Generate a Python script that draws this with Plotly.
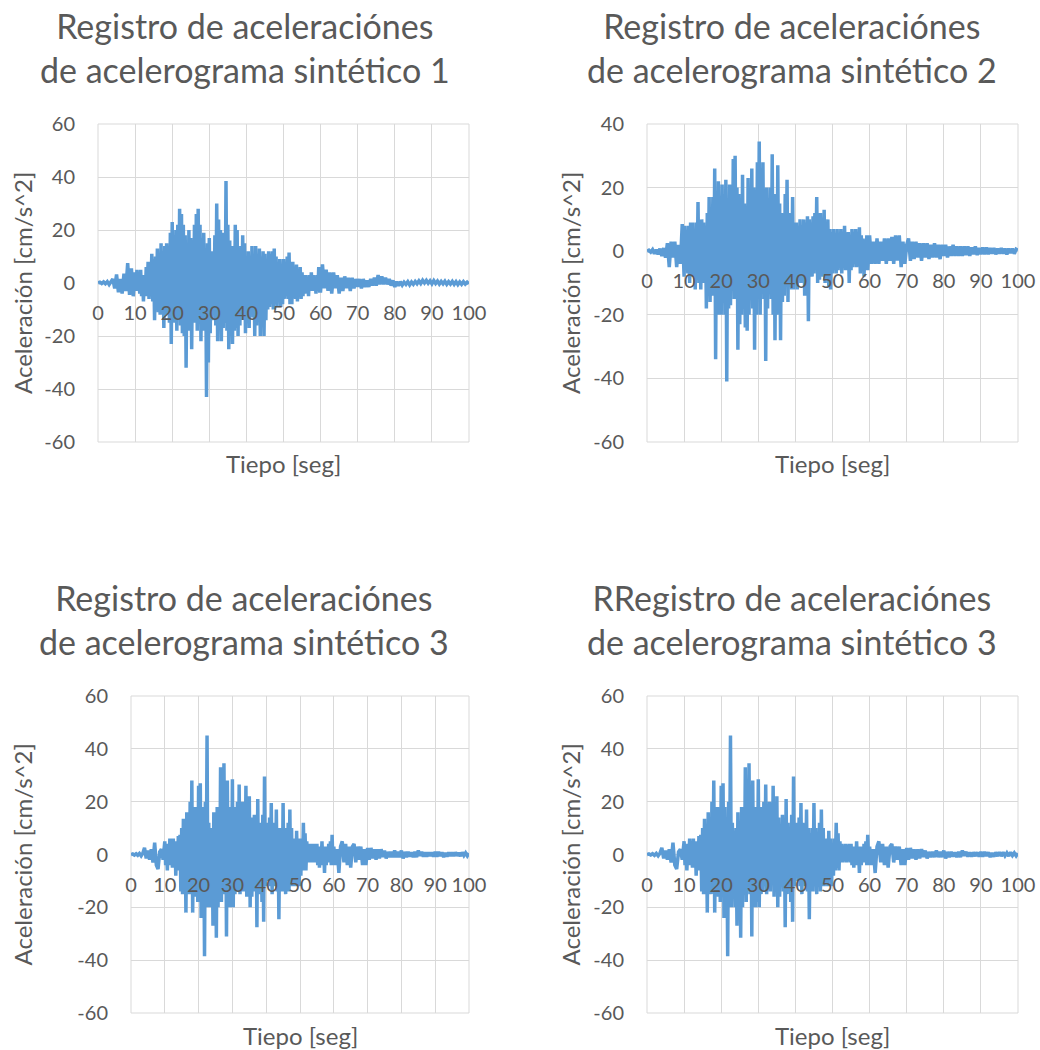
import plotly.graph_objects as go

W, H = 1040, 1050

# time axis [s]: 0.5 s steps in the quiet parts, 0.25 s steps in the strong phase
tiempo = ([i * 0.5 for i in range(20)]
          + [10 + i * 0.25 for i in range(200)]
          + [60 + i * 0.5 for i in range(81)])

# acceleration records [cm/s^2]
acel_1 = [
    # 0 - 9.5 s (0.5 s)
    0, 0.3, -0.2, 0.4, -0.3, 0.5, -0.6, 0.8, 1.5, -2,
    3.2, -3.5, 1.5, -4, 3.5, -3, 7.5, -4.5, 5.5, -5,
    # 10 - 59.75 s (0.25 s)
    4, -3, 5, -2, 3, -4, 5, -5, 2, -7,
    3, -4, 6, -5, 8, -6, 5, -4, 11, -7,
    9, -14, 10, -8, 13, -11, 7, -12, 15, -9,
    12, -17, 14, -12, 15, -10, 11, -15, 19, -23,
    23, -14, 18, -15, 20, -18, 22, -12, 28, -16,
    26, -19, 22, -20, 18, -32, 14, -15, 20, -18,
    17, -25, 14, -12, 22, -15, 26, -18, 28, -14,
    22, -22, 17, -18, 19, -15, 12, -43, 15, -30,
    17, -19, 12, -14, 10, -12, 18, -16, 30, -22,
    24, -17, 20, -22, 19, -17, 12, -15, 38.5, -18,
    22, -25, 16, -20, 14, -23, 12, -18, 22, -17,
    20, -20, 12, -16, 14, -14, 18, -12, 15, -19,
    9, -15, 12, -17, 10, -12, 14, -13, 11, -20,
    14, -16, 11, -12, 13, -20, 10, -15, 12, -20,
    11, -14, 9, -10, 12, -9, 11, -8, 12, -10,
    13, -8, 10, -9, 8, -7, 9, -9, 7, -8,
    9, -6, 7, -5, 10, -6, 11.5, -8, 6, -8,
    8, -5, 6, -6, 7, -7, 5, -5, 6, -6,
    4, -5, 3, -4, 3, -3, 2, -5, 3, -3,
    4, -3, 3, -2, 2, -4, 3, -3, 6, -3,
    # 60 - 100 s (0.5 s)
    -3, 7, -2, 5, -3, 4, -4, 4, -2, 3,
    -4, 2, -3, 2.5, -2, 2, -3, 2, -2, 1.5,
    -1.5, 1.5, -2, 1.5, -1.5, 1, -1.5, 1.5, -1, 2,
    -1, 3, -0.5, 2.5, -0.5, 2, -0.5, 1.5, -1, 1,
    -1.5, 0.5, -1, 0.5, -0.8, 0.3, -0.5, 0.5, -0.7, 0.4,
    -0.5, 0.6, -0.3, 0.8, -0.2, 1, 0, 1, -0.1, 0.8,
    -0.3, 0.9, -0.2, 0.7, -0.4, 0.6, -0.3, 0.7, -0.5, 0.5,
    -0.4, 0.6, -0.5, 0.5, -0.6, 0.4, -0.5, 0.5, -0.4, 0.3,
    -0.3,
]

acel_2 = [
    # 0 - 9.5 s
    0, 0.3, -0.3, 0.5, -0.8, 0.5, -1, 0.8, -1.5, 1,
    -2, 2.5, -5, 3, -2, 3, -5, 2, -4, 8.5,
    # 10 - 59.75 s
    -8, 8, -5, 6, -7, 8, -10, 9, -6, 9,
    -8, 7, -12, 9, -9, 15.5, -10, 8, -12, 10,
    -10, 9, -7, 8, -18, 12, -10, 17, -16, 11,
    -14, 17, -12, 26, -34, 18, -15, 22, -20, 16,
    -20, 21, -14, 18, -20, 22.5, -41, 15, -18, 21,
    -17, 16, -12, 29, -15, 30, -10, 20, -31, 18,
    -23, 16, -20, 24, -18, 15, -24, 12, -25, 23,
    -20, 18, -15, 26, -18, 20, -31, 15, -20, 28,
    -15, 34.5, -20, 22, -12, 28, -15, 18, -34.5, 20,
    -18, 13, -10, 20, -15, 30.5, -20, 18, -28, 15,
    -20, 27, -12, 15, -28, 12, -16, 10, -14, 18,
    -10, 22.5, -16, 12, -10, 10, -12, 17, -12, 9,
    -10, 9, -12, 8, -8, 10, -10, 8, -9, 10,
    -14, 9, -8, 11, -22, 10, -6, 9, -8, 11,
    -7, 12, -6, 17, -10, 8, -9, 12, -8, 9,
    -7, 13, -10, 8, -8, 10, -11, 7, -12, 6,
    -7, 7, -6, 5, -7, 7, -6, 5, -5, 7,
    -7, 6, -5, 8, -6, 5, -6, 6, -10, 4,
    -6, 7, -5, 6, -4, 7, -5, 5, -4, 7.5,
    -7, 5, -4, 4, -8, 3, -5, 5, -6, 4,
    # 60 - 100 s
    5, -4, 3, -4, 4, -4, 3, -3, 4, -4,
    4, -3, 4.5, -4, 5, -3, 5, -5, 3, -4,
    2, 4, -3, 3, -2.5, 3, -2, 2.5, -3, 2.5,
    -2, 2.5, -2.5, 2, -2, 2.5, -2, 2, -2.5, 2,
    -1.5, 2, -2, 1.5, -1.5, 2, -1.5, 1.5, -1.5, 1.5,
    -1.5, 1.5, -1.2, 1.5, -1.5, 1.2, -1, 1.5, -1.2, 1,
    -1, 1.2, -1, 1.2, -1, 1, -0.8, 1, -1, 0.8,
    -0.8, 1, -0.8, 0.8, -1, 0.8, -0.6, 0.8, -0.8, 0.6,
    0.3,
]

acel_3 = [
    # 0 - 9.5 s
    0, 0.2, -0.2, 0.3, -0.3, 0.4, -0.5, 0.5, 2.5, -1.5,
    1.5, -2, 2, -3, 4.5, -4, -5.5, 1, 2, -2,
    # 10 - 59.75 s
    5, -4, 3, -6, 4, -3, 6, -4, 3, -5,
    6, -4, 5, -8, 4, -5, 7, -6, 7.5, -14,
    10, -15, 13.5, -12, 9, -22, 16, -14, 14, -15,
    20, -12, 28, -22, 14, -10, 18, -16, 12, -18,
    26, -14, 27, -24, 18, -20, 12, -38.5, 20, -10,
    45, -20, 12, -15, 9, -20, 10, -27, 16, -18,
    12, -31.5, 18, -20, 14, -15, 33, -18, 20, -12,
    34.5, -15, 20, -31, 28, -16, 18, -20, 14, -18,
    28.5, -20, 13, -15, 18, -14, 20, -12, 26.5, -15,
    16, -12, 20, -14, 12, -10, 26, -16, 15, -12,
    22, -20, 14, -16, 10, -12, 15, -14, 12, -27.5,
    21, -15, 12, -10, 8, -18, 15, -25.5, 29.5, -12,
    10, -8, 12, -10, 14, -12, 19.5, -15, 12, -10,
    8, -12, 17, -14, 10, -24.5, 8, -12, 10, -14,
    19.5, -12, 10, -15, 8, -10, 12, -14, 17, -12,
    10, -12, 5, -10, 6, -12, 9, -8, 6, -12,
    4, -8, 6, -6, 12, -5, 8, -6, 5, -3,
    4, -3, 3, -2, 4, -3, 3, -2, 4, -3,
    4, -4, 3, -5, 2, -3, 5, -4, 2, -7,
    3, -4, 2, -3, 4, -3, 5, -4, 7.5, -4,
    # 60 - 100 s
    3, -4, 2, -7, 3, 5, -3, 4, -4, 3,
    -5, 3, 4, -3, 3, -2, 3, -4, 2, -4,
    2.5, -2, 2.5, -1.5, 2, -2, 2, -1.5, 2, -1,
    1.5, -1.5, 1, -1, 1, -1, 1.5, -1, 1, -1,
    1.5, -1.5, 1, -1, 1, -0.8, 0.8, -1, 1, -1,
    1.5, -0.5, 1, -0.8, 0.8, -0.8, 0.8, -0.6, 0.8, -0.8,
    1, -0.8, 1, -0.6, 0.8, -1, 0.6, -0.8, 0.8, -0.6,
    0.8, -0.6, 0.8, -0.5, 0.6, -0.6, 0.8, -0.4, 0.6, -0.5,
    0.5,
]

titulos = [
    "Registro de aceleraciónes<br>de acelerograma sintético 1",
    "Registro de aceleraciónes<br>de acelerograma sintético 2",
    "Registro de aceleraciónes<br>de acelerograma sintético 3",
    "RRegistro de aceleraciónes<br>de acelerograma sintético 3",
]
series = [acel_1, acel_2, acel_3, acel_3]
rangos_y = [(-60, 60), (-60, 40), (-60, 60), (-60, 60)]
x_ticks = list(range(0, 101, 10))

# panel layout in pixels: plot box (left, top, right, bottom), title centre,
# y-title x position, x-title y position
paneles = [
    dict(box=(98, 124, 469, 442), tcx=245, tcy=47, ytx=22, xty=463),
    dict(box=(647, 124, 1018, 442), tcx=792, tcy=47, ytx=570, xty=463),
    dict(box=(131, 696, 469, 1013), tcx=244, tcy=619, ytx=22, xty=1035),
    dict(box=(647, 696, 1018, 1013), tcx=792, tcy=619, ytx=570, xty=1035),
]

FONT = "Lato"
GRIS_TXT = "#595959"
GRIS_GRID = "#d9d9d9"
AZUL = "#5b9bd5"

fig = go.Figure()
layout = dict(
    width=W, height=H, autosize=False,
    margin=dict(l=0, r=0, t=0, b=0, autoexpand=False),
    paper_bgcolor="white", plot_bgcolor="white",
    showlegend=False,
    font=dict(family=FONT, color=GRIS_TXT),
)
annotations = []
shapes = []

for k, (p, ys, yr, tit) in enumerate(zip(paneles, series, rangos_y, titulos)):
    n = "" if k == 0 else str(k + 1)
    l, t, r, b = p["box"]
    xd = [l / W, r / W]
    yd = [1 - b / H, 1 - t / H]
    # the time axis crosses the acceleration axis at zero
    pos0 = yd[0] + (0 - yr[0]) / (yr[1] - yr[0]) * (yd[1] - yd[0])
    y_ticks = list(range(yr[0], yr[1] + 1, 20))

    fig.add_trace(go.Scatter(
        x=tiempo, y=ys, mode="lines",
        line=dict(color=AZUL, width=3.5),
        xaxis="x" + n, yaxis="y" + n, hoverinfo="skip",
    ))
    layout["xaxis" + n] = dict(
        domain=xd, range=[0, 100], tickvals=x_ticks,
        ticktext=[str(v) for v in x_ticks],
        showgrid=True, gridcolor=GRIS_GRID, gridwidth=1,
        zeroline=False, showline=False, ticks="",
        anchor="free", position=pos0, automargin=False,
        tickfont=dict(size=20, color=GRIS_TXT, family=FONT),
        ticklabelstandoff=16,
    )
    layout["yaxis" + n] = dict(
        domain=yd, range=list(yr), tickvals=y_ticks,
        ticktext=[str(v) for v in y_ticks],
        showgrid=True, gridcolor=GRIS_GRID, gridwidth=1,
        zeroline=True, zerolinecolor=GRIS_GRID, zerolinewidth=1,
        showline=False, ticks="", anchor="x" + n, automargin=False,
        tickfont=dict(size=20, color=GRIS_TXT, family=FONT),
        ticklabelstandoff=22,
    )
    shapes.append(dict(
        type="rect", xref="x" + n + " domain", yref="y" + n + " domain",
        x0=0, x1=1, y0=0, y1=1, line=dict(color=GRIS_GRID, width=1),
        layer="below",
    ))
    annotations.append(dict(
        text=tit, x=p["tcx"] / W, y=1 - p["tcy"] / H,
        xref="paper", yref="paper", xanchor="center", yanchor="middle",
        showarrow=False, align="center",
        font=dict(size=34, color=GRIS_TXT, family=FONT),
    ))
    annotations.append(dict(
        text="Aceleración [cm/s^2]", x=p["ytx"] / W, y=(yd[0] + yd[1]) / 2,
        xref="paper", yref="paper", xanchor="center", yanchor="middle",
        textangle=-90, showarrow=False,
        font=dict(size=24, color=GRIS_TXT, family=FONT),
    ))
    annotations.append(dict(
        text="Tiepo [seg]", x=(xd[0] + xd[1]) / 2, y=1 - p["xty"] / H,
        xref="paper", yref="paper", xanchor="center", yanchor="middle",
        showarrow=False,
        font=dict(size=24, color=GRIS_TXT, family=FONT),
    ))

layout["annotations"] = annotations
layout["shapes"] = shapes
fig.update_layout(**layout)
fig.write_html("out.html")
